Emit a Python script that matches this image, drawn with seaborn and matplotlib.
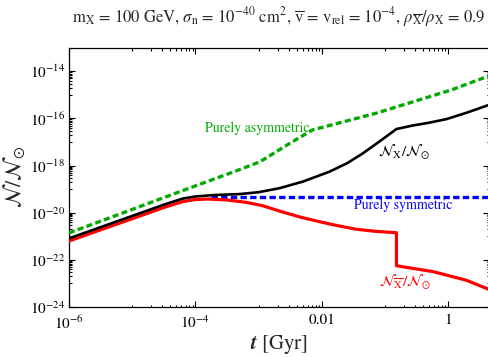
import numpy as np
import pandas as pd
import matplotlib
matplotlib.use("Agg")
import matplotlib.pyplot as plt
import seaborn as sns
from matplotlib.ticker import FixedLocator, FixedFormatter, NullFormatter

# ---- data (log10 values) ----
asym_logt = [-6.0, -4.25, -3.30, -2.98, -2.51, -2.15, -1.13, 0.05, 0.64]
asym_logN = [-20.86, -19.11, -18.17, -17.84, -17.06, -16.49, -15.77, -14.79, -14.20]

sym_logt = [-3.75, 0.64]
sym_logN = [-19.32, -19.32]

nx_logt = [-6.0, -4.5, -4.2, -4.0, -3.7, -3.3, -3.0, -2.67, -2.3, -1.88, -1.6,
           -1.35, -1.1, -0.82, -0.56, -0.3, -0.03, 0.3, 0.64]
nx_logN = [-21.09, -19.66, -19.40, -19.31, -19.25, -19.21, -19.13, -18.96, -18.68,
           -18.26, -17.90, -17.48, -17.00, -16.45, -16.30, -16.18, -16.03, -15.75, -15.43]

nxbar_logt = [-6.0, -4.5, -4.2, -4.0, -3.8, -3.5, -3.2, -2.94, -2.67, -2.35, -2.04,
              -1.75, -1.46, -1.15, -0.82, -0.82, -0.24, 0.28, 0.64]
nxbar_logN = [-21.20, -19.78, -19.53, -19.44, -19.42, -19.46, -19.56, -19.70, -19.93,
              -20.18, -20.38, -20.55, -20.70, -20.79, -20.85, -22.25, -22.50, -22.86, -23.25]

xtick_vals = [1e-6, 1e-4, 1e-2, 1.0]
xtick_labels = [r"$10^{-6}$", r"$10^{-4}$", "0.01", "1"]
ytick_exps = [-24, -22, -20, -18, -16, -14]

title = (r"$\mathrm{m_X}$ = 100 GeV, $\sigma_\mathrm{n}$ = 10$^{-40}$ cm$^2$, "
         r"$\overline{\mathrm{v}}$ = v$_\mathrm{rel}$ = 10$^{-4}$, "
         r"$\rho_{\overline{\mathrm{X}}}/\rho_\mathrm{X}$ = 0.9")

# ---- style ----
sns.set_style("ticks")
plt.rcParams["font.family"] = ["STIXGeneral", "DejaVu Serif"]
plt.rcParams["mathtext.fontset"] = "stix"

fig = plt.figure(figsize=(4.89, 3.57), dpi=100)
ax = fig.add_axes([69 / 489, 1 - 307 / 357, 1 - 69 / 489, (307 - 47.7) / 357])

GREEN = "#00aa00"

def frame(lt, lN):
    return pd.DataFrame({"t": 10.0 ** np.array(lt), "N": 10.0 ** np.array(lN)})

sns.lineplot(data=frame(sym_logt, sym_logN), x="t", y="N", ax=ax, color="#0000ff",
             linewidth=2.4, linestyle=(0, (1.9, 1.0)), sort=False, estimator=None, zorder=2)
sns.lineplot(data=frame(nxbar_logt, nxbar_logN), x="t", y="N", ax=ax, color="#ff0000",
             linewidth=2.3, sort=False, estimator=None, zorder=3)
sns.lineplot(data=frame(nx_logt, nx_logN), x="t", y="N", ax=ax, color="black",
             linewidth=1.9, sort=False, estimator=None, zorder=4)
sns.lineplot(data=frame(asym_logt, asym_logN), x="t", y="N", ax=ax, color=GREEN,
             linewidth=2.4, linestyle=(0, (1.8, 1.0)), sort=False, estimator=None, zorder=5)

ax.set_xscale("log")
ax.set_yscale("log")
ax.set_xlim(1e-6, 10 ** 0.644)
ax.set_ylim(1e-24, 1e-13)

# ticks
ax.xaxis.set_major_locator(FixedLocator(xtick_vals))
ax.xaxis.set_major_formatter(FixedFormatter(xtick_labels))
xminor = [k * 10.0 ** d for d in (-5, -3, -1) for k in range(1, 10)]
ax.xaxis.set_minor_locator(FixedLocator(xminor))
ax.xaxis.set_minor_formatter(NullFormatter())

ax.yaxis.set_major_locator(FixedLocator([10.0 ** e for e in ytick_exps]))
ax.yaxis.set_major_formatter(FixedFormatter([r"$10^{%d}$" % e for e in ytick_exps]))
yminor = [k * 10.0 ** d for d in (-23, -21, -19, -17, -15) for k in range(1, 10)]
ax.yaxis.set_minor_locator(FixedLocator(yminor))
ax.yaxis.set_minor_formatter(NullFormatter())

ax.tick_params(which="both", direction="in", top=True, right=True, labelsize=11,
               colors="black", width=0.8)
ax.tick_params(which="major", length=4.0)
ax.tick_params(axis="x", which="major", pad=5)
ax.tick_params(axis="y", which="major", pad=3)
ax.tick_params(which="minor", length=1.8)
for s in ax.spines.values():
    s.set_color("black")
    s.set_linewidth(0.9)

ax.set_xlabel(r"$\mathbfit{t}$ [Gyr]", fontsize=15, labelpad=1)
ax.set_ylabel(r"$\mathcal{N}/\mathcal{N}_{\odot}$", fontsize=16, labelpad=2)

fig.text(279 / 489, 1 - 17 / 357, title, ha="center", va="center", fontsize=12)

# annotations
ax.text(10 ** -3.02, 10 ** -16.41, "Purely asymmetric", color=GREEN, fontsize=10,
        ha="center", va="center")
ax.text(10 ** -0.715, 10 ** -19.7, "Purely symmetric", color="#0000ff", fontsize=10,
        ha="center", va="center")
ax.text(10 ** -0.70, 10 ** -17.44, r"$\mathcal{N}_{\mathrm{X}}/\mathcal{N}_{\odot}$",
        color="black", fontsize=11, ha="center", va="center")
ax.text(10 ** -0.69, 10 ** -22.95, r"$\mathcal{N}_{\overline{\mathrm{X}}}/\mathcal{N}_{\odot}$",
        color="#ff0000", fontsize=11, ha="center", va="center")

fig.savefig("out.png", dpi=100)
